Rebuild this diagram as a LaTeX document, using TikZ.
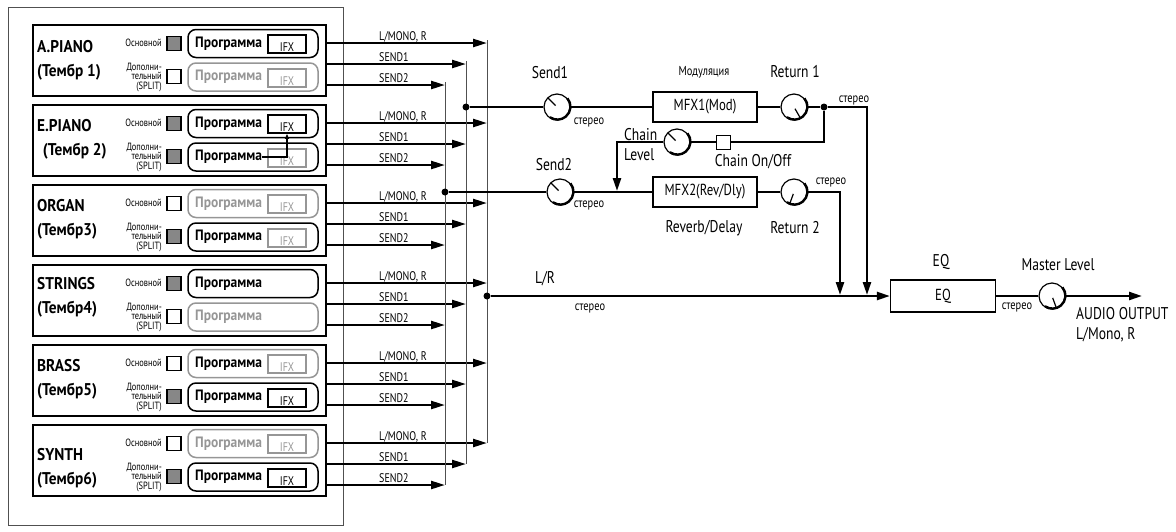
\documentclass[tikz,border=0pt]{standalone}
\usepackage{fontspec}
\setmainfont[FakeStretch=0.8, BoldFeatures={FakeStretch=0.9}]{PT Sans}
\usetikzlibrary{arrows.meta, positioning, calc}
\definecolor{cGrey}{RGB}{150,150,150}
\definecolor{cFill}{RGB}{135,135,135}
\definecolor{cBus}{RGB}{80,80,80}
\tikzset{
    panel/.style   ={rectangle, draw=cBus, line width=1pt, minimum width=335pt, minimum height=518pt, inner sep=0pt},
    tonebox/.style ={rectangle, draw=black, line width=1.6pt, minimum width=293pt, minimum height=71pt, inner sep=0pt},
    tonename/.style={anchor=west, align=left, inner sep=0pt, font=\bfseries\fontsize{17}{24}\selectfont},
    sellabel/.style={anchor=east, align=right, inner sep=0pt, font=\fontsize{10.5}{9.5}\selectfont},
    selsq/.style   ={rectangle, draw=black, line width=1.8pt, minimum size=14pt, inner sep=0pt},
    progbox/.style ={rectangle, rounded corners=8pt, line width=1.5pt, minimum width=130pt, minimum height=28pt, inner sep=0pt},
    progtext/.style={anchor=west, inner sep=0pt, font=\bfseries\fontsize{15}{16}\selectfont},
    ifxbox/.style  ={rectangle, line width=1.8pt, minimum width=38pt, minimum height=18pt, inner sep=0pt, text height=14pt, text depth=0pt, font=\fontsize{12.5}{13}\selectfont},
    buslabel/.style={anchor=base west, inner sep=0pt, font=\fontsize{12.5}{13}\selectfont},
    sig/.style     ={line width=2.4pt, -{Triangle[length=14pt, width=8pt]}},
    bus/.style     ={line width=1pt, draw=cBus},
    dot/.style     ={circle, fill=black, inner sep=0pt, minimum size=7pt},
    knob/.style    ={circle, draw=black, fill=white, line width=1.2pt, minimum size=26pt, inner sep=0pt},
    fxbox/.style   ={rectangle, draw=black, line width=1.2pt, minimum width=104pt, minimum height=30pt, inner sep=0pt, font=\fontsize{16}{17}\selectfont},
    onoff/.style   ={rectangle, draw=black, fill=white, line width=1pt, minimum size=14pt, inner sep=0pt},
    wire/.style    ={line width=2.4pt},
    wirearrow/.style={line width=2.4pt, -{Triangle[length=13pt, width=8pt]}},
    biglabel/.style={inner sep=0pt, font=\fontsize{17}{20}\selectfont},
    small/.style   ={inner sep=0pt, font=\fontsize{13}{14}\selectfont},
}

\begin{document}
\begin{tikzpicture}[x=1pt, y=-1pt]
    \useasboundingbox (0,0) rectangle (1176,531);
    \node[panel, anchor=north west] (pnl) at (8,7) {};

    % tone groups
    \foreach \i/\nm/\tb/\ny/\sqa/\bxa/\txa/\ifa/\sqb/\bxb/\txb/\ifb in {
        1/A.PIANO/(Тембр 1)/36/cFill/black/black/black/white/cGrey/cGrey/cGrey,
        2/E.PIANO/{\,\,(Тембр 2)}/35/cFill/black/black/black/cFill/black/black/cGrey,
        3/ORGAN/(Тембр3)/35/white/cGrey/cGrey/cGrey/cFill/black/black/cGrey,
        4/STRINGS/(Тембр4)/33/cFill/black/black/black/white/cGrey/cGrey/cGrey,
        5/BRASS/(Тембр5)/35/white/cGrey/black/cGrey/cFill/black/black/black,
        6/SYNTH/(Тембр6)/44/white/cGrey/cGrey/cGrey/cFill/black/black/black}
    {
        \pgfmathtruncatemacro\yy{24+80*(\i-1)}
        \node[tonebox, anchor=north west] (g\i) at (32,\yy) {};
        \node[tonename] (n\i) at (37,\yy+\ny) {\nm\\\tb};
        \node[sellabel] at (162,\yy+19) {Основной};
        \node[sellabel] at (162,\yy+53) {Дополни-\\тельный\\(SPLIT)};
        \node[selsq, fill=\sqa] (su\i) at (174,\yy+19.5) {};
        \node[selsq, fill=\sqb] (sl\i) at (174,\yy+52.5) {};
        \node[progbox, draw=\bxa] (bu\i) at (253,\yy+19.5) {};
        \node[progbox, draw=\bxb] (bl\i) at (253,\yy+53) {};
        \node[progtext, text=\txa] (pu\i) at (195,\yy+19.5) {Программа};
        \node[progtext, text=\txb] (pl\i) at (195,\yy+53) {Программа};
        \ifnum\i=4 \else
            \node[ifxbox, draw=\ifa, text=\ifa] (xu\i) at (287,\yy+20) {IFX};
            \node[ifxbox, draw=\ifb, text=\ifb] (xl\i) at (287,\yy+54) {IFX};
        \fi
        \coordinate (lm\i) at (487,\yy+19);
        \coordinate (sa\i) at (466,\yy+40);
        \coordinate (sb\i) at (445,\yy+61);
        \draw[sig] (g\i.east |- lm\i) -- (lm\i);
        \draw[sig] (g\i.east |- sa\i) -- (sa\i);
        \draw[sig] (g\i.east |- sb\i) -- (sb\i);
        \node[buslabel] at (379,\yy+16) {L/MONO, R};
        \node[buslabel] at (379,\yy+37) {SEND1};
        \node[buslabel] at (379,\yy+58) {SEND2};
    }
    \draw[line width=1.5pt, -{Triangle[length=5pt, width=4pt]}] (pl2.east) -| (xu2.south);

    % buses
    \draw[bus] ($(lm1)+(0,-3)$) -- (lm6);
    \draw[bus] ($(sa1)+(0,-3)$) -- (sa6);
    \draw[bus] ($(sb1)+(0,-3)$) -- (sb6);
    \node[dot] (t1) at (466,107) {};
    \node[dot] (t2) at (445,192) {};
    \node[dot] (t3) at (487,296) {};

    % MFX1
    \node[knob] (k1) at (557,107) {};
    \node[fxbox] (fx1) at (705,107) {MFX1(Mod)};
    \node[knob] (r1) at (794,107) {};
    \node[dot] (j1) at (824,107) {};
    \coordinate (c1) at (867,107);
    \draw[wire] (t1) -- (k1) -- (fx1) -- (r1) -- (j1);
    \draw[wirearrow, shorten >=1pt] (j1) -- (c1) -- (c1 |- t3);

    % chain
    \node[onoff] (oo) at (723,142) {};
    \node[knob] (kc) at (677,142) {};
    \coordinate (c4) at (617,142);
    \draw[wire] (j1) |- (oo);
    \draw[wire] (oo) -- (kc);

    % MFX2
    \node[knob] (k2) at (560,192) {};
    \node[fxbox] (fx2) at (705,192) {MFX2(Rev/Dly)};
    \node[knob] (r2) at (794,192) {};
    \coordinate (c2) at (840,192);
    \draw[wire] (t2) -- (k2) -- (fx2) -- (r2);
    \draw[wirearrow, shorten >=1pt] (r2) -- (c2) -- (c2 |- t3);
    \draw[wirearrow, shorten >=1pt] (kc) -- (c4) -- (c4 |- k2);

    % L/R, EQ, master
    \node[fxbox, minimum width=105pt, minimum height=32pt] (eq) at (943,296) {EQ};
    \node[knob] (mk) at (1052,296) {};
    \coordinate (out) at (1142,296);
    \draw[wirearrow] (t3) -- (eq);
    \draw[wire] (eq) -- (mk);
    \draw[wirearrow] (mk) -- (out);

    % knob pointers
    \foreach \k/\a in {k1/135, k2/135, kc/135, r1/-60, r2/-110, mk/-70} {
        \draw[line width=2.4pt] (\k.40) arc[start angle=40, end angle=-125, radius=13pt];
        \draw[line width=1.2pt, shorten <=2pt, shorten >=1pt] (\k.center) -- (\k.\a);
    }

    % labels
    \node[biglabel] at (550,73) {Send1};
    \node[small] at (704,72) {Модуляция};
    \node[biglabel] at (795,72) {Return 1};
    \node[small] at (589,122) {стерео};
    \node[small] at (854,100) {стерео};
    \node[biglabel, anchor=west, align=left] at (624,145) {Chain\\Level};
    \node[biglabel] at (753,162) {Chain On/Off};
    \node[biglabel] at (554,165) {Send2};
    \node[small] at (589,205) {стерео};
    \node[small] at (831,182) {стерео};
    \node[biglabel] at (704,228) {Reverb/Delay};
    \node[biglabel] at (795,228) {Return 2};
    \node[biglabel] at (545,279) {L/R};
    \node[small] at (590,308) {стерео};
    \node[biglabel] at (941,262) {EQ};
    \node[small] at (1017,307) {стерео};
    \node[biglabel] at (1058,265) {Master Level};
    \node[biglabel, anchor=north west, align=left] at (1076,307) {AUDIO OUTPUT\\L/Mono, R};
\end{tikzpicture}
\end{document}
